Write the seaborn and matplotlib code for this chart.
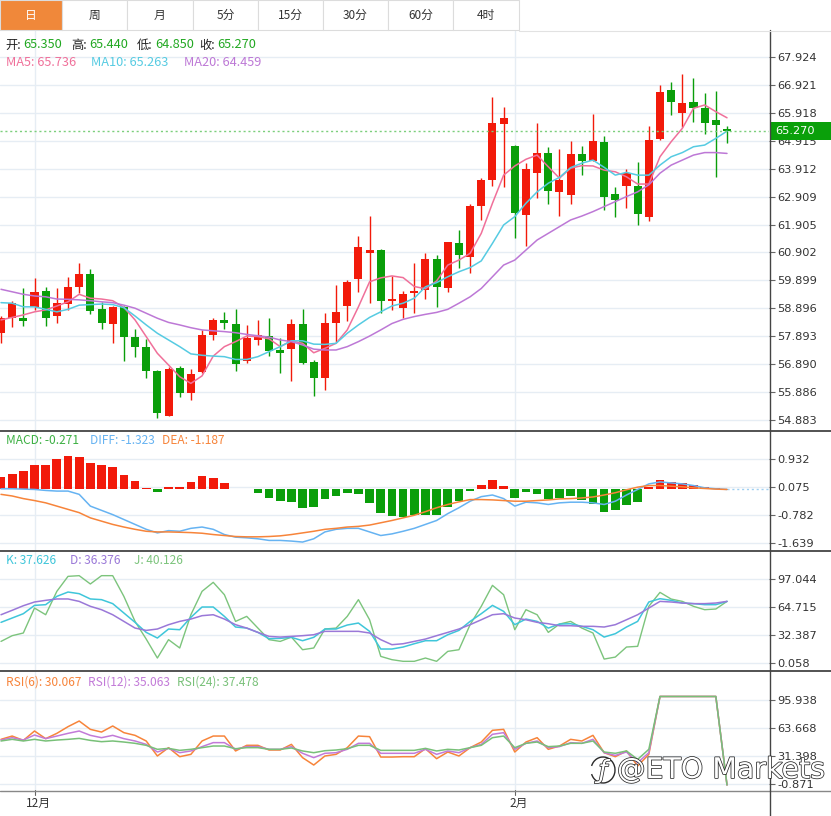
import numpy as np
import pandas as pd
import matplotlib
matplotlib.use("Agg")
import matplotlib.pyplot as plt
import seaborn as sns
from matplotlib.patches import Rectangle, Arc
from matplotlib.lines import Line2D
import matplotlib.patheffects as pe

sns.set_theme(style="white")
plt.rcParams["font.family"] = ["Noto Sans CJK SC", "DejaVu Sans"]

# ---------------- data ----------------
opens = [58.02, 58.54, 58.56, 58.95, 59.51, 58.62, 59.05, 59.67, 60.13, 58.86,
         58.33, 58.95, 57.88, 57.50, 56.65, 55.04, 56.74, 55.87, 56.60, 57.94,
         58.48, 58.33, 57.01, 57.76, 57.91, 57.39, 57.43, 58.33, 56.98, 56.38,
         58.38, 58.98, 59.94, 60.87, 60.99, 59.15, 58.90, 59.43, 59.55, 60.67,
         59.61, 61.23, 60.75, 62.57, 63.50, 65.52, 64.73, 62.25, 63.77, 64.49,
         63.08, 62.97, 64.44, 64.20, 64.88, 62.99, 63.29, 63.30, 62.19, 64.97,
         66.74, 65.90, 66.32, 66.08, 65.66, 65.35]
closes = [58.54, 59.08, 58.44, 59.49, 58.56, 59.10, 59.67, 60.13, 58.81, 58.36,
          58.95, 57.88, 57.50, 56.63, 55.13, 56.72, 55.87, 56.53, 57.93, 58.48,
          58.37, 56.88, 57.84, 57.93, 57.37, 57.30, 58.33, 56.92, 56.38, 58.38,
          58.77, 59.85, 61.09, 60.99, 59.16, 59.22, 59.41, 59.53, 60.67, 59.65,
          61.27, 60.81, 62.58, 63.50, 65.54, 65.74, 62.31, 63.90, 64.49, 63.11,
          63.50, 64.43, 64.20, 64.91, 62.91, 62.79, 63.75, 62.28, 64.94, 66.68,
          66.32, 66.28, 66.10, 65.56, 65.47, 65.27]
highs = [58.62, 59.17, 59.61, 59.97, 59.67, 59.61, 60.03, 60.51, 60.30, 59.13,
         58.98, 58.99, 58.15, 57.78, 56.68, 56.78, 56.82, 56.71, 58.12, 58.54,
         58.77, 58.87, 58.30, 58.48, 58.56, 57.82, 58.50, 58.86, 57.04, 58.74,
         59.73, 59.91, 61.49, 62.21, 61.03, 60.06, 59.53, 60.51, 60.89, 60.81,
         61.29, 61.71, 62.64, 63.59, 66.50, 66.14, 64.76, 64.10, 65.54, 64.68,
         64.61, 64.91, 64.73, 65.87, 65.09, 63.26, 63.89, 64.16, 65.45, 66.92,
         67.04, 67.30, 67.16, 66.62, 66.71, 65.44]
lows = [57.66, 58.24, 58.26, 58.84, 58.27, 58.38, 58.84, 59.43, 58.69, 58.14,
        57.66, 57.01, 57.14, 56.38, 54.95, 55.03, 55.72, 55.60, 56.57, 57.76,
        58.14, 56.65, 56.92, 57.58, 57.18, 56.58, 56.30, 56.90, 55.76, 55.96,
        57.70, 58.45, 59.49, 59.08, 58.74, 58.84, 58.54, 58.74, 59.22, 58.95,
        59.49, 60.33, 60.15, 62.07, 63.29, 63.26, 61.41, 61.13, 62.87, 62.64,
        62.21, 62.63, 63.67, 64.19, 62.43, 62.17, 62.49, 61.89, 62.04, 64.94,
        65.84, 65.42, 65.60, 65.16, 63.62, 64.85]

ma5 = [58.48, 58.57, 58.66, 58.77, 58.84, 58.98, 59.13, 59.40, 59.26, 59.23,
       59.17, 58.93, 58.48, 57.88, 57.28, 56.86, 56.44, 56.20, 56.47, 57.18,
       57.52, 57.70, 57.90, 57.88, 57.80, 57.52, 57.73, 57.64, 57.30, 57.46,
       57.64, 58.12, 58.95, 59.85, 59.99, 60.06, 60.00, 59.68, 59.60, 59.88,
       60.45, 60.63, 60.87, 61.59, 62.67, 63.68, 64.01, 64.25, 64.40, 63.98,
       63.57, 63.93, 64.02, 64.01, 63.86, 63.80, 63.62, 63.36, 63.36, 64.34,
       64.88, 65.36, 66.08, 66.20, 65.96, 65.74]
ma10 = [59.10, 59.08, 58.95, 58.95, 58.86, 58.77, 58.86, 59.01, 59.03, 59.05,
        59.03, 58.92, 58.62, 58.30, 58.00, 57.76, 57.52, 57.26, 57.21, 57.18,
        57.16, 57.06, 57.06, 57.16, 57.34, 57.52, 57.73, 57.73, 57.61, 57.60,
        57.64, 58.00, 58.30, 58.57, 58.77, 58.98, 59.08, 59.26, 59.67, 59.82,
        60.03, 60.21, 60.36, 60.60, 61.23, 61.89, 62.19, 62.67, 63.08, 63.39,
        63.60, 63.95, 64.11, 64.22, 63.96, 63.68, 63.78, 63.68, 63.68, 64.04,
        64.34, 64.49, 64.70, 64.76, 65.00, 65.26]
ma20 = [59.58, 59.49, 59.40, 59.34, 59.31, 59.23, 59.22, 59.20, 59.17, 59.13,
        59.10, 59.01, 58.90, 58.72, 58.54, 58.39, 58.30, 58.20, 58.12, 58.09,
        58.06, 58.02, 57.96, 57.91, 57.86, 57.76, 57.70, 57.58, 57.43, 57.40,
        57.40, 57.52, 57.70, 57.90, 58.12, 58.35, 58.50, 58.60, 58.68, 58.75,
        58.86, 59.08, 59.31, 59.61, 60.03, 60.45, 60.63, 60.99, 61.35, 61.59,
        61.83, 62.07, 62.21, 62.37, 62.55, 62.73, 62.91, 63.08, 63.33, 63.75,
        64.04, 64.22, 64.40, 64.49, 64.49, 64.46]

macd_hist = [0.38, 0.48, 0.56, 0.74, 0.74, 0.92, 1.02, 1.00, 0.82, 0.74,
             0.68, 0.43, 0.26, 0.04, -0.07, 0.09, 0.06, 0.23, 0.40, 0.36,
             0.20, 0.01, 0.01, -0.10, -0.26, -0.34, -0.39, -0.58, -0.53, -0.28,
             -0.20, -0.10, -0.13, -0.42, -0.73, -0.82, -0.85, -0.79, -0.77, -0.79,
             -0.53, -0.36, -0.05, 0.15, 0.29, 0.12, -0.26, -0.08, -0.13, -0.28,
             -0.26, -0.20, -0.31, -0.44, -0.68, -0.62, -0.49, -0.39, 0.08, 0.29,
             0.22, 0.20, 0.15, 0.08, 0.04, 0.00]
diff = [0.02, 0.02, 0.01, 0.00, -0.03, -0.05, -0.05, -0.15, -0.51, -0.64,
        -0.77, -0.92, -1.07, -1.22, -1.33, -1.26, -1.28, -1.19, -1.15, -1.22,
        -1.38, -1.46, -1.48, -1.51, -1.56, -1.56, -1.58, -1.61, -1.51, -1.30,
        -1.22, -1.19, -1.19, -1.30, -1.41, -1.36, -1.28, -1.19, -1.07, -0.95,
        -0.74, -0.56, -0.36, -0.22, -0.17, -0.28, -0.51, -0.39, -0.41, -0.46,
        -0.41, -0.39, -0.39, -0.41, -0.46, -0.36, -0.17, 0.00, 0.17, 0.23,
        0.20, 0.17, 0.12, 0.05, 0.02, 0.00]
dea = [-0.15, -0.20, -0.28, -0.34, -0.41, -0.51, -0.61, -0.71, -0.87, -0.97,
       -1.07, -1.15, -1.22, -1.28, -1.30, -1.30, -1.31, -1.32, -1.34, -1.38,
       -1.41, -1.44, -1.45, -1.45, -1.44, -1.42, -1.38, -1.33, -1.28, -1.22,
       -1.19, -1.15, -1.13, -1.09, -1.02, -0.95, -0.87, -0.79, -0.68, -0.56,
       -0.46, -0.38, -0.31, -0.31, -0.32, -0.34, -0.36, -0.36, -0.34, -0.32,
       -0.29, -0.28, -0.26, -0.23, -0.17, -0.10, -0.01, 0.07, 0.12, 0.12,
       0.10, 0.08, 0.05, 0.03, 0.01, 0.00]

k_vals = [47.0, 52.0, 57.0, 66.6, 67.4, 77.0, 82.0, 80.1, 74.0, 73.2,
          68.6, 57.8, 47.0, 35.4, 28.9, 39.3, 38.5, 52.8, 64.7, 64.7,
          53.9, 41.6, 40.4, 35.4, 28.1, 28.5, 29.7, 25.8, 29.7, 39.3,
          39.3, 43.9, 46.2, 36.6, 16.2, 16.2, 18.5, 22.3, 25.8, 25.8,
          32.7, 37.7, 48.1, 57.0, 66.6, 59.7, 44.3, 50.8, 48.1, 40.4,
          45.0, 45.4, 42.4, 38.5, 30.0, 33.9, 41.6, 48.1, 70.5, 74.3,
          72.4, 69.3, 68.6, 67.4, 67.4, 71.2]
d_vals = [55.8, 60.9, 66.2, 70.5, 72.4, 74.0, 74.0, 71.2, 65.5, 61.6,
          55.8, 48.1, 40.4, 37.7, 39.3, 44.3, 48.1, 50.8, 54.7, 55.8,
          50.8, 44.3, 40.4, 35.4, 30.8, 30.0, 30.8, 31.6, 32.7, 36.6,
          36.6, 36.6, 36.6, 34.7, 27.0, 21.2, 22.3, 25.0, 27.7, 31.6,
          35.4, 39.3, 44.3, 50.0, 55.8, 57.0, 52.0, 50.0, 47.0, 45.4,
          43.1, 43.1, 42.4, 42.4, 41.6, 44.3, 50.0, 55.8, 63.5, 71.2,
          70.5, 69.3, 68.6, 68.6, 69.3, 71.2]
j_vals = [25.0, 31.6, 34.7, 63.5, 55.8, 82.8, 100.1, 100.9, 91.3, 100.9,
          100.9, 77.0, 48.1, 27.7, 5.8, 27.0, 17.4, 55.8, 82.8, 93.2,
          78.9, 48.1, 53.9, 40.4, 27.0, 25.0, 30.0, 15.4, 17.4, 39.3,
          40.4, 53.9, 73.2, 50.0, 7.7, 3.9, 2.0, 2.0, 5.8, 2.0,
          13.5, 15.4, 44.3, 65.5, 89.7, 78.9, 38.5, 61.6, 55.8, 35.4,
          45.0, 48.1, 40.4, 34.7, 4.6, 6.9, 18.5, 19.3, 65.5, 81.6,
          73.9, 71.2, 65.5, 61.6, 62.4, 71.2]

rsi6 = [50.6, 54.4, 49.4, 60.2, 51.4, 57.5, 65.2, 71.7, 62.1, 59.0,
        66.0, 58.3, 55.2, 48.7, 31.4, 41.0, 30.6, 33.3, 48.7, 54.4,
        54.4, 37.2, 43.7, 43.7, 38.3, 38.3, 44.8, 29.5, 21.0, 31.4,
        33.3, 41.0, 54.4, 53.7, 30.2, 30.2, 30.6, 30.6, 39.8, 28.3,
        36.0, 31.4, 41.0, 47.5, 61.0, 62.1, 36.0, 47.5, 52.5, 39.1,
        42.9, 50.6, 48.7, 55.2, 35.2, 30.6, 37.2, 19.9, 33.3, 100.0,
        100.0, 100.0, 100.0, 100.0, 100.0, -2.0]
rsi12 = [49.8, 52.5, 49.8, 55.6, 51.4, 54.4, 57.5, 60.2, 55.2, 52.5,
         55.2, 51.4, 48.7, 44.8, 36.0, 40.2, 35.2, 37.2, 42.2, 46.8,
         46.8, 39.1, 42.2, 42.2, 39.1, 39.1, 42.2, 34.5, 29.5, 34.5,
         35.2, 39.1, 46.0, 46.0, 34.5, 34.5, 34.5, 34.5, 39.1, 33.3,
         37.2, 35.2, 41.0, 44.8, 56.4, 58.3, 39.1, 46.0, 48.7, 41.0,
         42.2, 46.8, 46.0, 50.6, 35.2, 32.1, 36.0, 23.7, 35.2, 100.0,
         100.0, 100.0, 100.0, 100.0, 100.0, -2.0]
rsi24 = [48.7, 50.6, 48.7, 50.6, 48.7, 49.8, 50.6, 51.7, 49.4, 47.9,
         48.7, 47.5, 46.0, 43.7, 39.1, 40.2, 37.9, 39.1, 41.0, 42.9,
         42.9, 39.8, 41.0, 41.0, 39.1, 39.1, 40.6, 37.2, 35.2, 37.5,
         38.3, 39.8, 43.7, 43.7, 37.9, 37.9, 37.9, 37.9, 40.2, 37.2,
         39.1, 38.3, 41.0, 43.7, 52.5, 54.4, 41.0, 46.0, 47.5, 42.2,
         42.9, 46.0, 46.0, 48.7, 36.0, 34.5, 37.2, 27.5, 39.1, 100.0,
         100.0, 100.0, 100.0, 100.0, 100.0, -2.0]

price_ticks = [67.924, 66.921, 65.918, 64.915, 63.912, 62.909, 61.905,
               60.902, 59.899, 58.896, 57.893, 56.890, 55.886, 54.883]
macd_ticks = [0.932, 0.075, -0.782, -1.639]
kdj_ticks = [97.044, 64.715, 32.387, 0.058]
rsi_ticks = [95.938, 63.668, 31.398, -0.871]
month_labels = ["12月", "2月"]
month_pos = [3, 46]
tabs = ["日", "周", "月", "5分", "15分", "30分", "60分", "4时"]
last_price = 65.270

# ---------------- styling ----------------
W, H = 831, 816
RED, GREEN = "#f21a0a", "#0a9e0a"
C_MA5, C_MA10, C_MA20 = "#f0709a", "#56cbe2", "#bd78d6"
C_DIFF, C_DEA = "#66b3f2", "#f7843a"
C_K, C_D, C_J = "#3fc6da", "#9a78d8", "#7cc47c"
C_R6, C_R12, C_R24 = "#f7843a", "#c27ad8", "#78c078"
GRID = "#e6edf4"

fig = plt.figure(figsize=(W / 100, H / 100), dpi=100)
fig.patch.set_facecolor("white")

def fx(px):
    return px / W

def fy(py):
    return 1 - py / H

def add_panel(top, bottom):
    return fig.add_axes([0, fy(bottom), fx(769), (bottom - top) / H])

n = len(closes)
idx = np.arange(n)
XLIM = (-0.09, 68.76)

ax_p = add_panel(31, 430)
ax_m = add_panel(432, 550)
ax_k = add_panel(552, 670)
ax_r = add_panel(672, 790)

def style(ax, ylim, ticks):
    ax.set_xlim(*XLIM)
    ax.set_ylim(*ylim)
    ax.set_facecolor("white")
    for s in ax.spines.values():
        s.set_visible(False)
    for t in ticks:
        ax.axhline(t, color=GRID, lw=1, zorder=0)
    for m in month_pos:
        ax.axvline(m, color=GRID, lw=1, zorder=0)
    ax.yaxis.tick_right()
    ax.set_yticks(ticks)
    ax.set_yticklabels([f"{t:.3f}" for t in ticks])
    ax.tick_params(axis="y", which="both", right=True, length=4, width=0.8,
                   color="#666", pad=2, labelsize=8.2, labelcolor="#333")
    for lab in ax.get_yticklabels():
        lab.set_fontfamily("DejaVu Sans")
    ax.set_xticks([])
    ax.set_xlabel("")
    ax.set_ylabel("")

# ---------- price panel ----------
df = pd.DataFrame({"i": idx, "open": opens, "close": closes, "high": highs,
                   "low": lows, "ma5": ma5, "ma10": ma10, "ma20": ma20})
cols = [RED if c >= o else GREEN for o, c in zip(df["open"], df["close"])]
ax_p.vlines(df["i"], df["low"], df["high"], colors=cols, lw=1.0, zorder=2)
body = np.maximum(np.abs(df["close"] - df["open"]), 0.06)
ax_p.bar(df["i"], body, bottom=np.minimum(df["open"], df["close"]),
         width=0.72, color=cols, zorder=3, linewidth=0)
sns.lineplot(data=df, x="i", y="ma5", ax=ax_p, color=C_MA5, lw=1.1, zorder=4)
sns.lineplot(data=df, x="i", y="ma10", ax=ax_p, color=C_MA10, lw=1.1, zorder=4)
sns.lineplot(data=df, x="i", y="ma20", ax=ax_p, color=C_MA20, lw=1.1, zorder=4)
ax_p.axhline(last_price, color="#7ccf7c", lw=1, ls=(0, (1.5, 2)), zorder=5)
style(ax_p, (54.526, 68.857), price_ticks)

# ---------- MACD panel ----------
mdf = pd.DataFrame({"i": idx, "hist": macd_hist, "diff": diff, "dea": dea})
hcols = [RED if h >= 0 else GREEN for h in mdf["hist"]]
ax_m.bar(mdf["i"], mdf["hist"], width=0.78, color=hcols, zorder=2, linewidth=0)
sns.lineplot(data=mdf, x="i", y="diff", ax=ax_m, color=C_DIFF, lw=1.1, zorder=3)
sns.lineplot(data=mdf, x="i", y="dea", ax=ax_m, color=C_DEA, lw=1.1, zorder=3)
ax_m.plot([n - 1, XLIM[1]], [diff[-1], diff[-1]], color="#9fd0f2", lw=1,
          ls=(0, (1.5, 2)), zorder=2)
style(ax_m, (-1.853, 1.758), macd_ticks)

# ---------- KDJ panel ----------
kdf = pd.DataFrame({"i": idx, "K": k_vals, "D": d_vals, "J": j_vals})
sns.lineplot(data=kdf, x="i", y="J", ax=ax_k, color=C_J, lw=1.0, zorder=3)
sns.lineplot(data=kdf, x="i", y="K", ax=ax_k, color=C_K, lw=1.1, zorder=4)
sns.lineplot(data=kdf, x="i", y="D", ax=ax_k, color=C_D, lw=1.1, zorder=4)
style(ax_k, (-8.02, 128.22), kdj_ticks)

# ---------- RSI panel ----------
rdf = pd.DataFrame({"i": idx, "r6": rsi6, "r12": rsi12, "r24": rsi24})
sns.lineplot(data=rdf, x="i", y="r6", ax=ax_r, color=C_R6, lw=1.1, zorder=3)
sns.lineplot(data=rdf, x="i", y="r12", ax=ax_r, color=C_R12, lw=1.1, zorder=3)
sns.lineplot(data=rdf, x="i", y="r24", ax=ax_r, color=C_R24, lw=1.1, zorder=4)
style(ax_r, (-7.79, 128.21), rsi_ticks)

# month labels under the RSI panel
for lab, pos in zip(month_labels, month_pos):
    ax_r.annotate(lab, xy=(pos, 0), xycoords=("data", "axes fraction"),
                  xytext=(2.5, -9.5), textcoords="offset points", ha="center",
                  va="center", fontsize=8.5, color="#333")
    ax_r.plot([pos, pos], [0, -0.04], transform=ax_r.get_xaxis_transform(),
              color="#666", lw=0.8, clip_on=False)

# ---------- frame lines ----------
def hline(y, x0, x1, color, lw=1.0):
    fig.add_artist(Line2D([fx(x0), fx(x1)], [fy(y), fy(y)], color=color, lw=lw))

def vline(x, y0, y1, color, lw=1.0):
    fig.add_artist(Line2D([fx(x), fx(x)], [fy(y0), fy(y1)], color=color, lw=lw))

hline(431, 0, W, "#444", 1.3)
hline(551, 0, W, "#444", 1.3)
hline(671, 0, W, "#444", 1.3)
hline(790.5, 0, W, "#888", 1.0)
vline(769.5, 30, H, "#444", 1.0)

# ---------- toolbar ----------
edges = [0, 62, 127, 193, 258, 323, 388, 453, 519]
for k, lab in enumerate(tabs):
    x0, x1 = edges[k], edges[k + 1]
    active = k == 0
    fig.add_artist(Rectangle((fx(x0), fy(30)), fx(x1 - x0), 30 / H,
                             facecolor="#f0883a" if active else "white",
                             edgecolor="#dcdcdc", lw=0.8))
    fig.text(fx((x0 + x1) / 2), fy(15), lab, ha="center", va="center",
             fontsize=8.5, color="white" if active else "#333")
hline(30.5, 519, W, "#e2e2e2", 0.8)

# ---------- legends ----------
def txt(x, y, s, color, size=9.2):
    fig.text(fx(x), fy(y), s, ha="left", va="center", fontsize=size, color=color)

VAL = "#22a822"
for lx, vx, lab, val in [(5, 23, "开:", "65.350"), (71, 89, "高:", "65.440"),
                         (137, 155, "低:", "64.850"), (199, 217, "收:", "65.270")]:
    txt(lx, 45, lab, "#222", 8.8)
    txt(vx, 45, val, VAL)
txt(6, 62, "MA5: 65.736", C_MA5)
txt(91, 62, "MA10: 65.263", C_MA10)
txt(184, 62, "MA20: 64.459", C_MA20)

txt(6, 440, "MACD: -0.271", "#3cb043", 8.6)
txt(90, 440, "DIFF: -1.323", C_DIFF, 8.6)
txt(162, 440, "DEA: -1.187", C_DEA, 8.6)

txt(6, 560, "K: 37.626", C_K, 8.6)
txt(70, 560, "D: 36.376", C_D, 8.6)
txt(134, 560, "J: 40.126", C_J, 8.6)

txt(6, 682, "RSI(6): 30.067", C_R6, 8.6)
txt(88, 682, "RSI(12): 35.063", C_R12, 8.6)
txt(177, 682, "RSI(24): 37.478", C_R24, 8.6)

# ---------- current price tag ----------
fig.add_artist(Rectangle((fx(770), fy(140)), fx(61), 18 / H,
                         facecolor="#0aa00a", edgecolor="none"))
fig.text(fx(775), fy(131), f"{last_price:.3f}", ha="left", va="center",
         fontsize=8.2, color="white", family="DejaVu Sans")

# ---------- watermark ----------
stroke = [pe.withStroke(linewidth=1.1, foreground="#2a2a2a")]
fig.text(fx(617), fy(770), "@ETO Markets", ha="left", va="center",
         fontsize=20.5, color="white", family="DejaVu Sans",
         path_effects=stroke, zorder=10)
fig.text(fx(603), fy(771), "ƒ", ha="center", va="center", fontsize=18,
         color="white", family="DejaVu Sans", style="italic",
         path_effects=stroke, zorder=10)
fig.add_artist(Arc((fx(603), fy(770)), 24 / W, 26 / H, theta1=200, theta2=520,
                   color="#2a2a2a", lw=1.0, zorder=10))

fig.savefig("out.png", dpi=100, facecolor="white")
